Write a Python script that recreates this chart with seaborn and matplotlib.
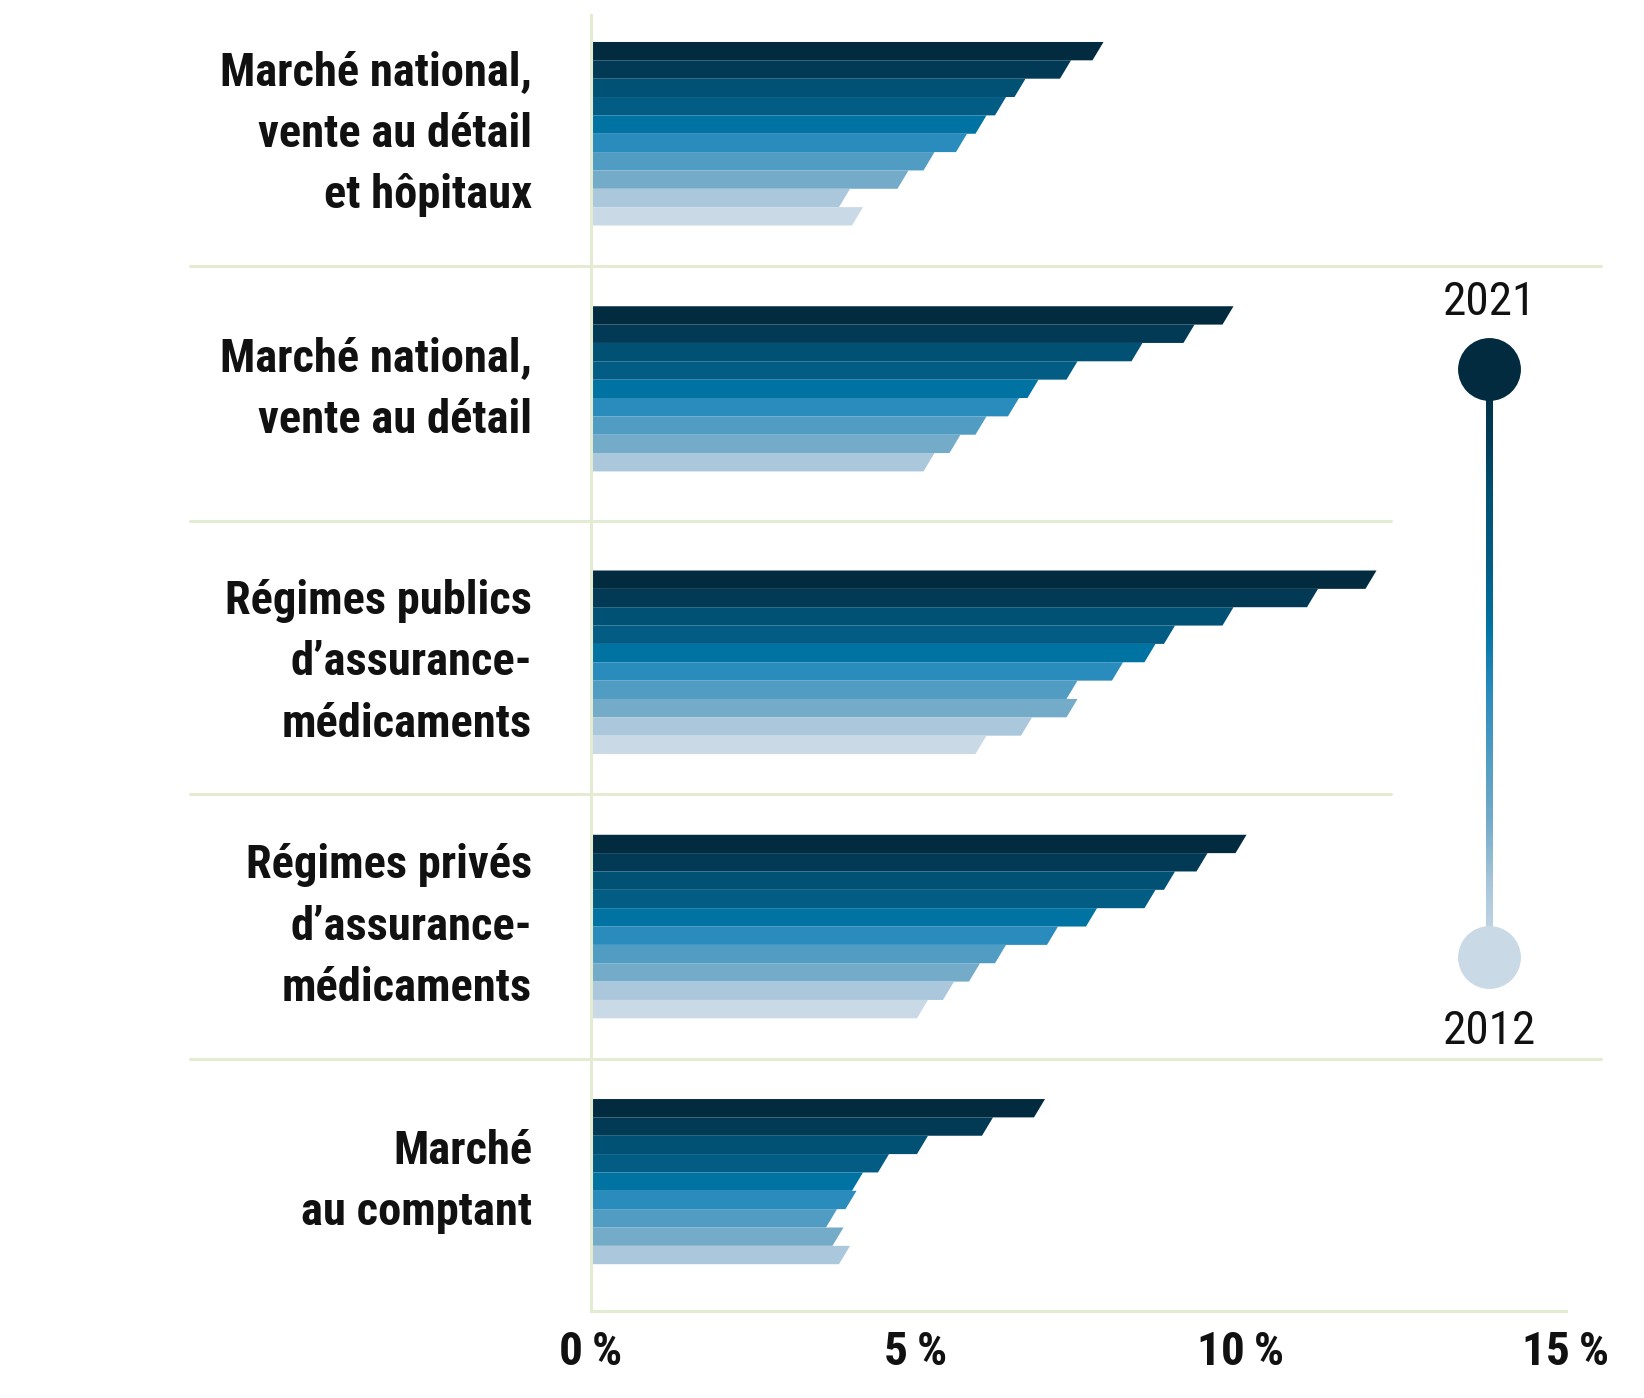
import numpy as np
import pandas as pd
import matplotlib
matplotlib.use("Agg")
import matplotlib.pyplot as plt
import seaborn as sns
from matplotlib.patches import Polygon
from matplotlib.collections import LineCollection
from matplotlib.colors import LinearSegmentedColormap

# data (2021 -> 2012, growth in %)
categories = [
    "Marché national,\nvente au détail\net hôpitaux",
    "Marché national,\nvente au détail",
    "Régimes publics\nd’assurance-\nmédicaments",
    "Régimes privés\nd’assurance-\nmédicaments",
    "Marché\nau comptant",
]
years = ["2021", "2020", "2019", "2018", "2017", "2016", "2015", "2014", "2013", "2012"]
national_total = [7.8, 7.3, 6.6, 6.3, 6.0, 5.7, 5.2, 4.8, 3.9, 4.1]
national_retail = [9.8, 9.2, 8.4, 7.4, 6.8, 6.5, 6.0, 5.6, 5.2, np.nan]
public_plans = [12.0, 11.1, 9.8, 8.9, 8.6, 8.1, 7.4, 7.4, 6.7, 6.0]
private_plans = [10.0, 9.4, 8.9, 8.6, 7.7, 7.1, 6.3, 5.9, 5.5, 5.1]
cash_market = [6.9, 6.1, 5.1, 4.5, 4.1, 4.0, 3.7, 3.8, 3.9, np.nan]
year_colors = ["#022b40", "#023a55", "#015174", "#035c84", "#0073a3",
               "#2a8bbd", "#509cc3", "#74abc9", "#abc7db", "#cad9e6"]
xticks = [0, 5, 10, 15]
xtick_labels = ["0\u2009%", "5\u2009%", "10\u2009%", "15\u2009%"]

series = [national_total, national_retail, public_plans, private_plans, cash_market]
group_step = 14.4

rows = []
for g, (cat, vals) in enumerate(zip(categories, series)):
    for i, (yr, v) in enumerate(zip(years, vals)):
        if not np.isnan(v):
            rows.append({"category": cat, "year": yr, "value": v, "pos": g * group_step + i})
df = pd.DataFrame(rows)

sns.set_style("white")
plt.rcParams["font.family"] = ["Roboto Condensed", "DejaVu Sans"]

fig = plt.figure(figsize=(16.44, 13.98), dpi=100)
ax = fig.add_axes([0.35949, 0.06223, 0.59307, 0.92704])

sns.barplot(data=df, x="value", y="pos", hue="year", orient="y",
            palette=dict(zip(years, year_colors)), native_scale=True,
            dodge=False, width=1.0, errorbar=None, saturation=1,
            legend=False, ax=ax)

# slanted right end on each bar
slant = 0.17
for bar in list(ax.patches):
    x0, y0 = bar.get_x(), bar.get_y()
    w, h = bar.get_width(), bar.get_height()
    fc = bar.get_facecolor()
    bar.remove()
    ax.add_patch(Polygon([(x0, y0), (x0 + w + slant / 2, y0),
                          (x0 + w - slant / 2, y0 + h), (x0, y0 + h)],
                         closed=True, facecolor=fc, edgecolor="none"))

ax.set_xlim(0, 15)
ax.set_ylim(68.65, -1.97)
ax.set_xlabel("")
ax.set_ylabel("")
ax.set_yticks([])
ax.set_xticks(xticks)
ax.set_xticklabels(xtick_labels, fontsize=34, fontweight="bold", color="#111111")
ax.tick_params(axis="x", length=0, pad=14)

grid_col = "#e4ebd3"
for side in ["top", "right"]:
    ax.spines[side].set_visible(False)
for side in ["left", "bottom"]:
    ax.spines[side].set_color(grid_col)
    ax.spines[side].set_linewidth(2.2)

# group labels and separators
trans = ax.get_yaxis_transform()
counts = df.groupby("category", sort=False)["pos"].agg(["min", "max"])
sep_right = [1.036, 0.8205, 0.8205, 1.036]
for g, cat in enumerate(categories):
    lo, hi = counts.loc[cat, "min"], counts.loc[cat, "max"]
    ax.text(-0.0605, (lo + hi) / 2, cat, transform=trans, ha="right", va="center",
            fontsize=33.5, fontweight="bold", linespacing=1.5, color="#111111")
    if g < len(categories) - 1:
        nxt = counts.loc[categories[g + 1], "min"]
        ymid = ((hi + 0.5) + (nxt - 0.5)) / 2
        ax.plot([-0.411, sep_right[g]], [ymid, ymid], transform=trans,
                color=grid_col, lw=2.2, clip_on=False, zorder=0)

# gradient legend 2012 -> 2021
lax = fig.add_axes([0, 0, 1, 1])
lax.set_xlim(0, 1644)
lax.set_ylim(1398, 0)
lax.axis("off")
cmap = LinearSegmentedColormap.from_list("yrs", year_colors)
lx, ytop, ybot = 1489, 369, 957
ys = np.linspace(ytop, ybot, 300)
segs = [[(lx, ys[k]), (lx, ys[k + 1])] for k in range(len(ys) - 1)]
lc = LineCollection(segs, colors=cmap(np.linspace(0, 1, len(segs))), linewidths=3.8,
                    capstyle="projecting", antialiaseds=False)
lax.add_collection(lc)
lax.scatter([lx], [ytop], s=2050, color=year_colors[0], zorder=3, linewidths=0)
lax.scatter([lx], [ybot], s=2050, color=year_colors[-1], zorder=3, linewidths=0)
lax.text(lx, 302, years[0], ha="center", va="center", fontsize=34, color="#111111")
lax.text(lx, 1031, years[-1], ha="center", va="center", fontsize=34, color="#111111")

fig.savefig("out.png", dpi=100, facecolor="white")
